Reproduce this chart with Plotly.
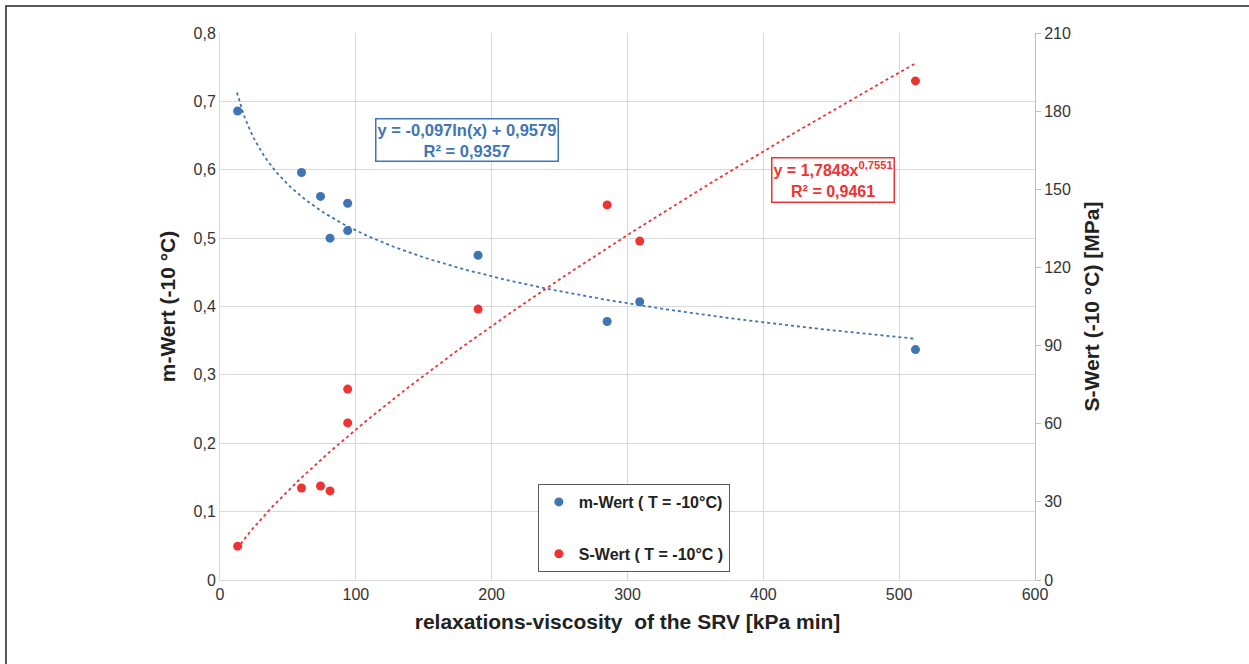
import numpy as np
import plotly.graph_objects as go

# Data
srv = [13, 60, 74, 81, 94, 94, 190, 285, 309, 512]
m_wert = [0.686, 0.596, 0.561, 0.500, 0.551, 0.511, 0.475, 0.378, 0.407, 0.337]
s_srv = [13, 60, 74, 81, 94, 94, 190, 285, 309, 512]
s_wert = [13.0, 35.3, 36.1, 34.2, 73.3, 60.3, 104.0, 144.0, 130.1, 191.6]

y1_ticks = [0, 0.1, 0.2, 0.3, 0.4, 0.5, 0.6, 0.7, 0.8]
y1_labels = ["0", "0,1", "0,2", "0,3", "0,4", "0,5", "0,6", "0,7", "0,8"]
y2_ticks = [0, 30, 60, 90, 120, 150, 180, 210]
x_ticks = [0, 100, 200, 300, 400, 500, 600]

# Trendline coefficients (shown on chart)
log_a, log_b = -0.097, 0.9579
pow_a, pow_b = 1.7848, 0.7551

BLUE = "#3f74b5"
RED = "#ee3333"
FONT = "Liberation Sans, Arial, sans-serif"

xt = np.linspace(12.5, 512, 300)
m_fit = log_a * np.log(xt) + log_b
s_fit = pow_a * xt ** pow_b

fig = go.Figure()
fig.add_trace(go.Scatter(x=xt, y=m_fit, mode="lines", line=dict(color=BLUE, width=1.8, dash="dot"),
                         showlegend=False, hoverinfo="skip"))
fig.add_trace(go.Scatter(x=xt, y=s_fit, mode="lines", yaxis="y2", line=dict(color=RED, width=1.8, dash="dot"),
                         showlegend=False, hoverinfo="skip"))
fig.add_trace(go.Scatter(x=srv, y=m_wert, mode="markers", name="m-Wert ( T = -10°C)",
                         marker=dict(color=BLUE, size=9), legendgroup="a"))
fig.add_trace(go.Scatter(x=s_srv, y=s_wert, mode="markers", name="S-Wert ( T = -10°C )", yaxis="y2",
                         marker=dict(color=RED, size=9), legendgroup="b"))

tickfont = dict(family=FONT, size=16, color="#333333")
titlefont = dict(family=FONT, size=21, color="#222222", weight="bold")

fig.update_layout(
    width=1249, height=664,
    margin=dict(l=220, r=214, t=33, b=84),
    paper_bgcolor="white", plot_bgcolor="white",
    font=dict(family=FONT),
    xaxis=dict(range=[0, 600], tickvals=x_ticks, showgrid=True, gridcolor="#d9d9d9", gridwidth=1,
               zeroline=False, showline=True, linecolor="#d9d9d9", mirror=False, ticks="",
               tickfont=tickfont,
               title=dict(text="relaxations-viscosity  of the SRV [kPa min]", font=titlefont, standoff=12)),
    yaxis=dict(range=[0, 0.8], tickvals=y1_ticks, ticktext=y1_labels, showgrid=True, gridcolor="#d9d9d9",
               gridwidth=1, zeroline=False, showline=True, linecolor="#d9d9d9", ticks="",
               tickfont=tickfont,
               title=dict(text="m-Wert (-10 °C)", font=titlefont, standoff=12)),
    yaxis2=dict(range=[0, 210], tickvals=y2_ticks, overlaying="y", side="right", showgrid=False,
                zeroline=False, showline=True, linecolor="#bfbfbf", ticks="outside", ticklen=5,
                tickcolor="#bfbfbf", tickfont=tickfont,
                title=dict(text="S-Wert (-10 °C) [MPa]", font=titlefont, standoff=14)),
    legend=dict(x=0.39, y=0.1755, xanchor="left", yanchor="top", bgcolor="white",
                bordercolor="#595959", borderwidth=1, tracegroupgap=28,
                font=dict(family=FONT, size=16, color="#222222", weight="bold"),
                itemwidth=30),
    annotations=[
        dict(x=0.303, y=0.804, xref="paper", yref="paper", xanchor="center", yanchor="middle",
             showarrow=False,
             text="<b>y = -0,097ln(x) + 0,9579<br>R² = 0,9357</b>",
             font=dict(family=FONT, size=16.5, color=BLUE), bordercolor=BLUE, borderwidth=1.5,
             borderpad=1, bgcolor="white", align="center"),
        dict(x=0.752, y=0.731, xref="paper", yref="paper", xanchor="center", yanchor="middle",
             showarrow=False,
             text="<b>y = 1,7848x<sup>0,7551</sup><br>R² = 0,9461</b>",
             font=dict(family=FONT, size=16, color=RED), bordercolor=RED, borderwidth=1.5,
             borderpad=1, bgcolor="white", align="center"),
    ],
    shapes=[
        dict(type="rect", xref="paper", yref="paper", x0=-0.2626, x1=1.4, y0=-0.3, y1=1.0494,
             line=dict(color="#222222", width=1.5), layer="below"),
    ],
)

fig.write_html("out.html")
